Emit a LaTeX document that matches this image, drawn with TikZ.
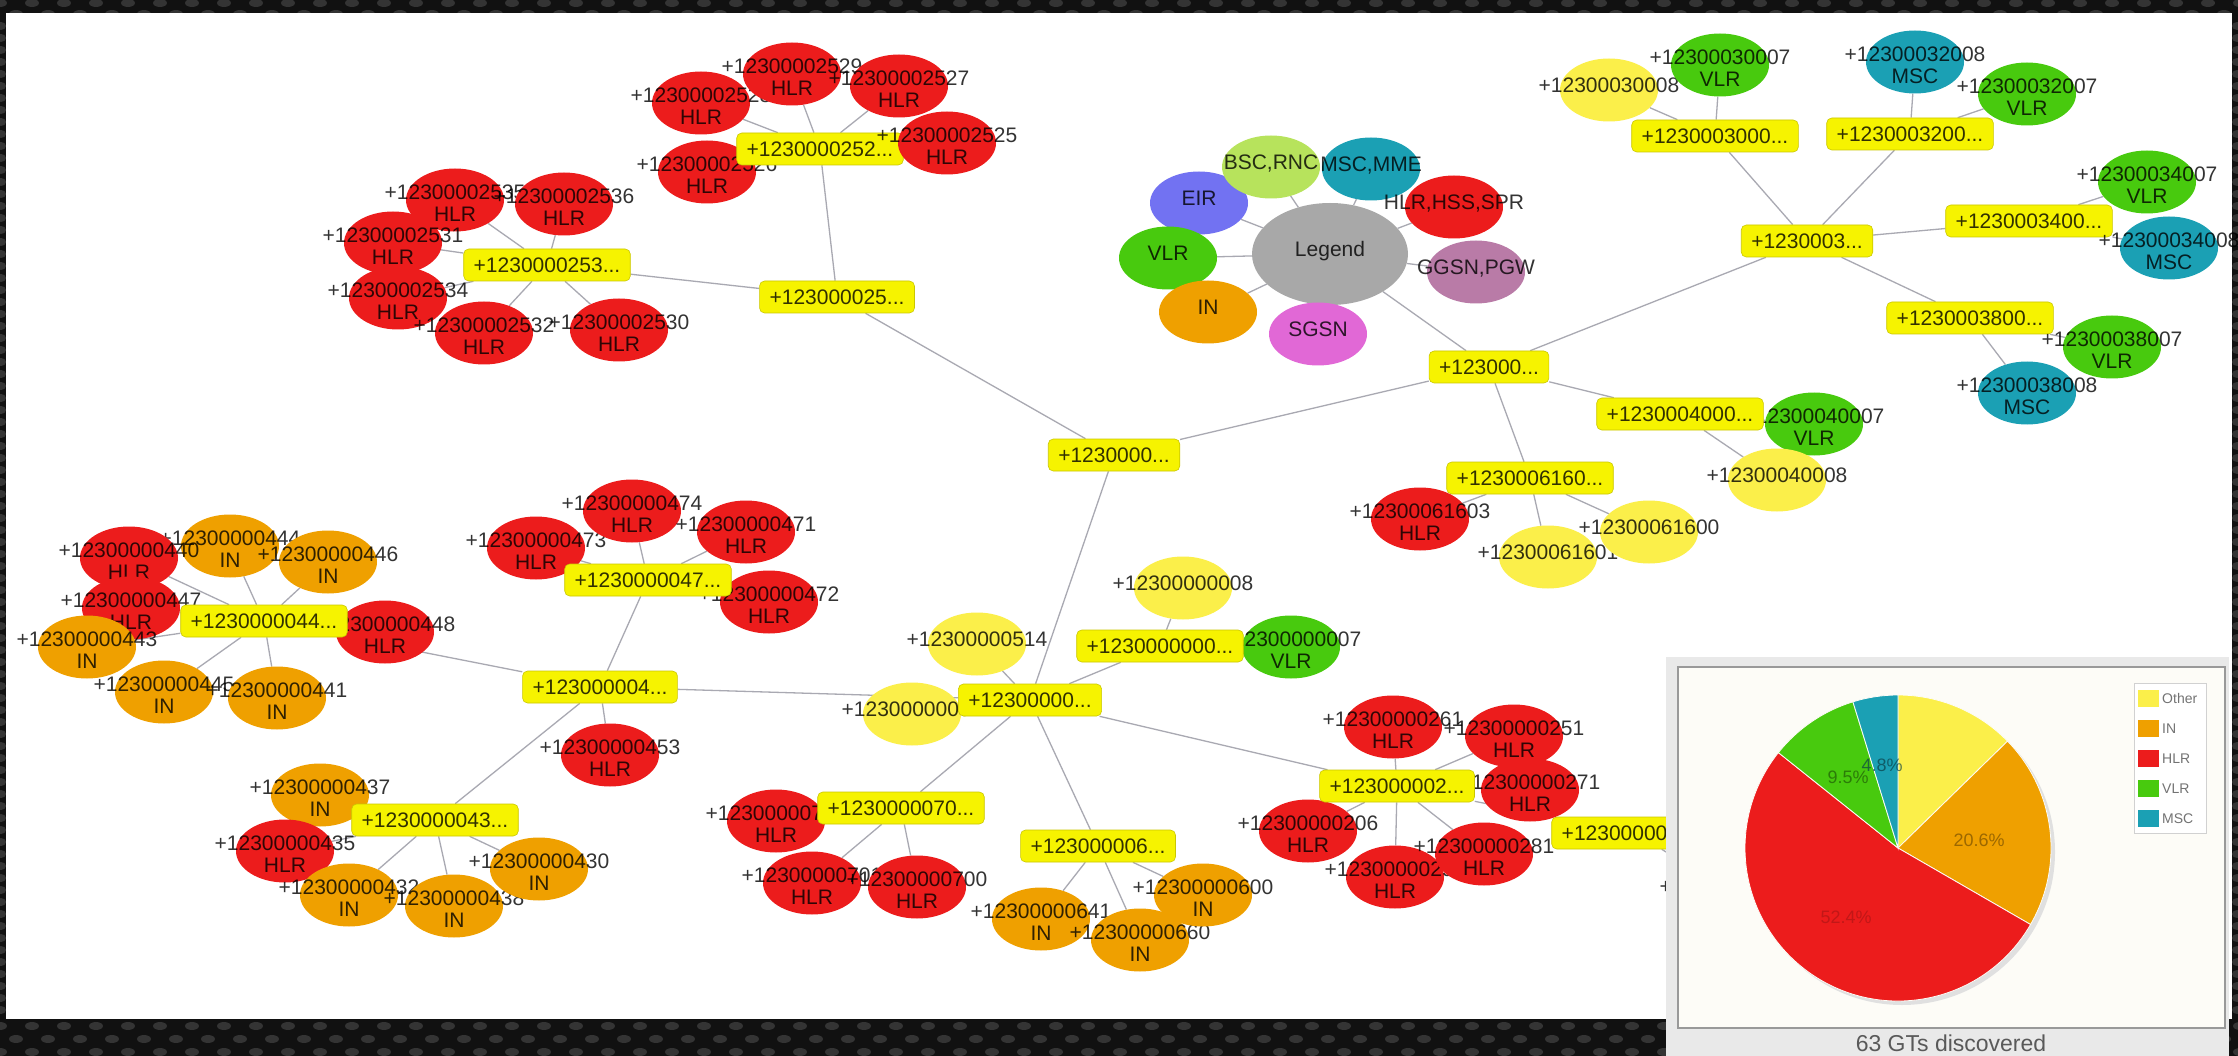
\documentclass[tikz,border=0pt]{standalone}
\usepackage{fontspec}
\setmainfont{Liberation Sans}
\usetikzlibrary{shapes.geometric}

\definecolor{hlrred}{HTML}{EC1C1C}
\definecolor{inorange}{HTML}{EFA000}
\definecolor{vlrgreen}{HTML}{48CA0E}
\definecolor{mscteal}{HTML}{1BA0B4}
\definecolor{othyellow}{HTML}{FBEF4A}
\definecolor{boxyellow}{HTML}{F6F300}
\definecolor{eirblue}{HTML}{7272F2}
\definecolor{bsclime}{HTML}{B7E35C}
\definecolor{ggsnmauve}{HTML}{B97BA7}
\definecolor{sgsnpink}{HTML}{E168D6}
\definecolor{leggray}{HTML}{A8A8A8}
\definecolor{edgegray}{HTML}{A9A9B2}
\definecolor{bgdark}{HTML}{111111}
\definecolor{dotgray}{HTML}{343434}
\definecolor{panelbg}{HTML}{FDFCF7}
\definecolor{panelgray}{HTML}{E9E9E9}

\pgfdeclarelayer{canvas}
\pgfdeclarelayer{links}
\pgfdeclarelayer{panel}
\pgfsetlayers{canvas,links,main,panel}

\newcommand{\gtfont}{\fontsize{21}{22}\selectfont}
\newcommand{\idt}[2]{\makebox[0pt]{\rule{0pt}{21pt}#1}\\\makebox[0pt]{#2}}
\newcommand{\ido}[1]{\makebox[0pt]{#1\rule[-10pt]{0pt}{10pt}}}

\tikzset{
  gt/.style={ellipse, minimum width=98pt, minimum height=63pt, inner sep=0pt,
    align=center, text=black, text opacity=0.8},
  gthlr/.style={gt, fill=hlrred},
  gtin/.style={gt, fill=inorange},
  gtvlr/.style={gt, fill=vlrgreen},
  gtmsc/.style={gt, fill=mscteal},
  gtoth/.style={gt, fill=othyellow},
  hub/.style={rectangle, rounded corners=5pt, fill=boxyellow, draw=boxyellow!82!black,
    line width=0.6pt, minimum height=32pt, inner xsep=10pt, inner ysep=0pt,
    text=black, text opacity=0.8},
  link/.style={draw=edgegray, line width=1.3pt},
  pct/.style={font=\fontsize{18}{20}\selectfont, text opacity=0.7, inner sep=0pt},
}

\begin{document}
\begin{tikzpicture}[x=1pt, y=-1pt, font=\gtfont]
  \useasboundingbox (0,0) rectangle (2238,1056);

  \begin{pgfonlayer}{canvas}
    \fill[bgdark] (0,0) rectangle (2238,1056);
    % perforated frame
    \foreach \x in {0,32,...,2240}{
      \fill[dotgray] (\x,3) ellipse[x radius=7pt, y radius=4pt];
      \fill[dotgray] (\x+16,14) ellipse[x radius=7pt, y radius=4pt];
      \fill[dotgray] (\x,1026) ellipse[x radius=7pt, y radius=4pt];
      \fill[dotgray] (\x+16,1039) ellipse[x radius=7pt, y radius=4pt];
      \fill[dotgray] (\x,1052) ellipse[x radius=7pt, y radius=4pt];
    }
    \foreach \y in {26,38,...,1010}{
      \fill[dotgray] (1,\y) ellipse[x radius=5pt, y radius=4pt];
      \fill[dotgray] (2237,\y) ellipse[x radius=5pt, y radius=4pt];
    }
    \fill[white] (6,13) rectangle (2232,1019);
  \end{pgfonlayer}

  % HLR group 253x
  \node[gthlr] (gt2535) at (455,200) {\idt{+12300002535}{HLR}};
  \node[gthlr] (gt2536) at (564,204) {\idt{+12300002536}{HLR}};
  \node[gthlr] (gt2531) at (393,243) {\idt{+12300002531}{HLR}};
  \node[gthlr] (gt2534) at (398,298) {\idt{+12300002534}{HLR}};
  \node[gthlr] (gt2532) at (484,333) {\idt{+12300002532}{HLR}};
  \node[gthlr] (gt2530) at (619,330) {\idt{+12300002530}{HLR}};
  \node[hub] (hub253) at (547,265) {+1230000253...};

  % HLR group 252x
  \node[gthlr] (gt2528) at (701,103) {\idt{+12300002528}{HLR}};
  \node[gthlr] (gt2529) at (792,74) {\idt{+12300002529}{HLR}};
  \node[gthlr] (gt2527) at (899,86) {\idt{+12300002527}{HLR}};
  \node[gthlr] (gt2526) at (707,172) {\idt{+12300002526}{HLR}};
  \node[hub] (hub252) at (820,149) {+1230000252...};
  \node[gthlr] (gt2525) at (947,143) {\idt{+12300002525}{HLR}};
  \node[hub] (hub25) at (837,297) {+123000025...};
  \node[hub] (root) at (1114,455) {+1230000...};

  % legend
  \node[gt, fill=leggray, minimum width=156pt, minimum height=102pt] (legend) at (1330,254) {\ido{Legend}};
  \node[gt, fill=eirblue] (eir) at (1199,203) {\ido{EIR}};
  \node[gt, fill=bsclime] (bsc) at (1271,167) {\ido{BSC,RNC}};
  \node[gt, fill=mscteal] (mme) at (1371,169) {\ido{MSC,MME}};
  \node[gt, fill=hlrred] (hss) at (1454,207) {\ido{HLR,HSS,SPR}};
  \node[gt, fill=ggsnmauve] (pgw) at (1476,272) {\ido{GGSN,PGW}};
  \node[gt, fill=vlrgreen] (lvlr) at (1168,258) {\ido{VLR}};
  \node[gt, fill=inorange] (lin) at (1208,312) {\ido{IN}};
  \node[gt, fill=sgsnpink] (sgsn) at (1318,334) {\ido{SGSN}};

  % right branch
  \node[hub] (hub123000) at (1489,367) {+123000...};
  \node[hub] (hub1230003) at (1807,241) {+1230003...};
  \node[gtoth] (gt30008) at (1609,90) {\ido{+12300030008}};
  \node[gtvlr] (gt30007) at (1720,65) {\idt{+12300030007}{VLR}};
  \node[hub] (hub3000) at (1715,136) {+1230003000...};
  \node[gtmsc] (gt32008) at (1915,62) {\idt{+12300032008}{MSC}};
  \node[gtvlr] (gt32007) at (2027,94) {\idt{+12300032007}{VLR}};
  \node[hub] (hub3200) at (1910,134) {+1230003200...};
  \node[gtvlr] (gt34007) at (2147,182) {\idt{+12300034007}{VLR}};
  \node[hub] (hub3400) at (2029,221) {+1230003400...};
  \node[gtmsc] (gt34008) at (2169,248) {\idt{+12300034008}{MSC}};
  \node[hub] (hub3800) at (1970,318) {+1230003800...};
  \node[gtvlr] (gt38007) at (2112,347) {\idt{+12300038007}{VLR}};
  \node[gtmsc] (gt38008) at (2027,393) {\idt{+12300038008}{MSC}};
  \node[gtvlr] (gt40007) at (1814,424) {\idt{+12300040007}{VLR}};
  \node[hub] (hub4000) at (1680,414) {+1230004000...};
  \node[gtoth] (gt40008) at (1777,480) {\ido{+12300040008}};
  \node[hub] (hub6160) at (1530,478) {+1230006160...};
  \node[gthlr] (gt61603) at (1420,519) {\idt{+12300061603}{HLR}};
  \node[gtoth] (gt61601) at (1548,557) {\ido{+12300061601}};
  \node[gtoth] (gt61600) at (1649,532) {\ido{+12300061600}};

  % centre
  \node[gtoth] (gt00008) at (1183,588) {\ido{+12300000008}};
  \node[gtvlr] (gt00007) at (1291,647) {\idt{+12300000007}{VLR}};
  \node[hub] (hub0000) at (1160,646) {+1230000000...};
  \node[gtoth] (gt00514) at (977,644) {\ido{+12300000514}};
  \node[gtoth] (gt00001) at (912,714) {\ido{+12300000001}};
  \node[hub] (hub0) at (1030,700) {+12300000...};

  % left branch
  \node[gthlr] (gt453) at (610,755) {\idt{+12300000453}{HLR}};
  \node[hub] (hub4) at (600,687) {+123000004...};
  \node[gthlr] (gt473) at (536,548) {\idt{+12300000473}{HLR}};
  \node[gthlr] (gt474) at (632,511) {\idt{+12300000474}{HLR}};
  \node[gthlr] (gt471) at (746,532) {\idt{+12300000471}{HLR}};
  \node[gthlr] (gt472) at (769,602) {\idt{+12300000472}{HLR}};
  \node[hub] (hub47) at (648,580) {+1230000047...};

  \node[gtin] (gt444) at (230,546) {\idt{+12300000444}{IN}};
  \node[gthlr] (gt440) at (129,558) {\idt{+12300000440}{HLR}};
  \node[gtin] (gt446) at (328,562) {\idt{+12300000446}{IN}};
  \node[gthlr] (gt447) at (131,608) {\idt{+12300000447}{HLR}};
  \node[gtin] (gt445) at (164,692) {\idt{+12300000445}{IN}};
  \node[gtin] (gt443) at (87,647) {\idt{+12300000443}{IN}};
  \node[gtin] (gt441) at (277,698) {\idt{+12300000441}{IN}};
  \node[gthlr] (gt448) at (385,632) {\idt{+12300000448}{HLR}};
  \node[hub] (hub44) at (264,621) {+1230000044...};

  \node[gtin] (gt437) at (320,795) {\idt{+12300000437}{IN}};
  \node[gthlr] (gt435) at (285,851) {\idt{+12300000435}{HLR}};
  \node[gtin] (gt432) at (349,895) {\idt{+12300000432}{IN}};
  \node[gtin] (gt438) at (454,906) {\idt{+12300000438}{IN}};
  \node[gtin] (gt430) at (539,869) {\idt{+12300000430}{IN}};
  \node[hub] (hub43) at (435,820) {+1230000043...};

  % lower branch
  \node[gthlr] (gt702) at (776,821) {\idt{+12300000702}{HLR}};
  \node[hub] (hub70) at (901,808) {+1230000070...};
  \node[gthlr] (gt701) at (812,883) {\idt{+12300000701}{HLR}};
  \node[gthlr] (gt700) at (917,887) {\idt{+12300000700}{HLR}};

  \node[gtin] (gt641) at (1041,919) {\idt{+12300000641}{IN}};
  \node[gtin] (gt660) at (1140,940) {\idt{+12300000660}{IN}};
  \node[gtin] (gt600) at (1203,895) {\idt{+12300000600}{IN}};
  \node[hub] (hub6) at (1098,846) {+123000006...};

  \node[gthlr] (gt261) at (1393,727) {\idt{+12300000261}{HLR}};
  \node[gthlr] (gt251) at (1514,736) {\idt{+12300000251}{HLR}};
  \node[gthlr] (gt206) at (1308,831) {\idt{+12300000206}{HLR}};
  \node[gthlr] (gt291) at (1395,877) {\idt{+12300000291}{HLR}};
  \node[gthlr] (gt281) at (1484,854) {\idt{+12300000281}{HLR}};
  \node[gthlr] (gt271) at (1530,790) {\idt{+12300000271}{HLR}};
  \node[hub] (hub2) at (1397,786) {+123000002...};
  \node[hub] (hubR) at (1635,833) {+1230000029...};
  \node[gtoth] (gtR) at (1730,891) {\ido{+12300000290}};

  \begin{pgfonlayer}{links}
    \foreach \a/\b in {hub253/gt2535, hub253/gt2536, hub253/gt2531, hub253/gt2534,
        hub253/gt2532, hub253/gt2530, hub253/hub25,
        hub252/gt2528, hub252/gt2529, hub252/gt2527, hub252/gt2526, hub252/gt2525,
        hub252/hub25, hub25/root, root/hub123000, root/hub0,
        legend/eir, legend/bsc, legend/mme, legend/hss, legend/pgw, legend/lvlr,
        legend/lin, legend/sgsn, legend/hub123000,
        hub123000/hub1230003, hub123000/hub4000, hub123000/hub6160,
        hub1230003/hub3000, hub1230003/hub3200, hub1230003/hub3400, hub1230003/hub3800,
        hub3000/gt30008, hub3000/gt30007, hub3200/gt32008, hub3200/gt32007,
        hub3400/gt34007, hub3400/gt34008, hub3800/gt38007, hub3800/gt38008,
        hub4000/gt40007, hub4000/gt40008,
        hub6160/gt61603, hub6160/gt61601, hub6160/gt61600,
        hub0/hub0000, hub0/gt00514, hub0/gt00001, hub0/hub4, hub0/hub70, hub0/hub6, hub0/hub2,
        hub0000/gt00008, hub0000/gt00007,
        hub4/gt453, hub4/hub47, hub4/hub44, hub4/hub43,
        hub47/gt474, hub47/gt471, hub47/gt472, hub47/gt473,
        hub44/gt440, hub44/gt444, hub44/gt446, hub44/gt447, hub44/gt443,
        hub44/gt448, hub44/gt445, hub44/gt441,
        hub43/gt437, hub43/gt435, hub43/gt432, hub43/gt438, hub43/gt430,
        hub70/gt702, hub70/gt701, hub70/gt700,
        hub6/gt641, hub6/gt660, hub6/gt600,
        hub2/gt261, hub2/gt251, hub2/gt271, hub2/gt206, hub2/gt281, hub2/gt291,
        hub2/hubR, hubR/gtR}
      \draw[link] (\a) -- (\b);
  \end{pgfonlayer}

  \begin{pgfonlayer}{panel}
    \fill[panelgray] (1666,657) rectangle (2229,1056);
    \draw[black!40, line width=2.5pt, fill=panelbg] (1678,667) rectangle (2225,1028);
    % pie
    \fill[black!12] (1902,852) circle[radius=153pt];
    \begin{scope}[shift={(1898,848)}, x=1pt, y=1pt, draw=panelbg, line width=0.8pt]
      \filldraw[fill=othyellow] (0,0) -- (90:153pt) arc[start angle=90, end angle=44.29, radius=153pt] -- cycle;
      \filldraw[fill=inorange] (0,0) -- (44.29:153pt) arc[start angle=44.29, end angle=-30, radius=153pt] -- cycle;
      \filldraw[fill=hlrred] (0,0) -- (-30:153pt) arc[start angle=-30, end angle=-218.57, radius=153pt] -- cycle;
      \filldraw[fill=vlrgreen] (0,0) -- (141.43:153pt) arc[start angle=141.43, end angle=107.14, radius=153pt] -- cycle;
      \filldraw[fill=mscteal] (0,0) -- (107.14:153pt) arc[start angle=107.14, end angle=90, radius=153pt] -- cycle;
    \end{scope}
    \node[pct, text=inorange!50!black] (pin) at (1979,840) {20.6\%};
    \node[pct, text=vlrgreen!45!black] (pvlr) at (1848,777) {9.5\%};
    \node[pct, text=mscteal!40!black] (pmsc) at (1882,765) {4.8\%};
    \node[pct, text=hlrred!60!black, text opacity=0.45] (phlr) at (1846,917) {52.4\%};
    % key
    \draw[black!18, fill=white] (2134,683) rectangle (2206,833);
    \foreach \c/\t [count=\i] in {othyellow/Other, inorange/IN, hlrred/HLR, vlrgreen/VLR, mscteal/MSC}{
      \fill[\c] (2138,{660+30*\i}) rectangle ++(21,17);
      \node[anchor=west, font=\fontsize{14}{16}\selectfont, text=black!55, inner sep=0pt]
        (key\i) at (2162,{668.5+30*\i}) {\t};
    }
    \node[font=\fontsize{23}{26}\selectfont, text=black!65] (gtcount) at (1951,1043) {63 GTs discovered};
  \end{pgfonlayer}
\end{tikzpicture}
\end{document}
